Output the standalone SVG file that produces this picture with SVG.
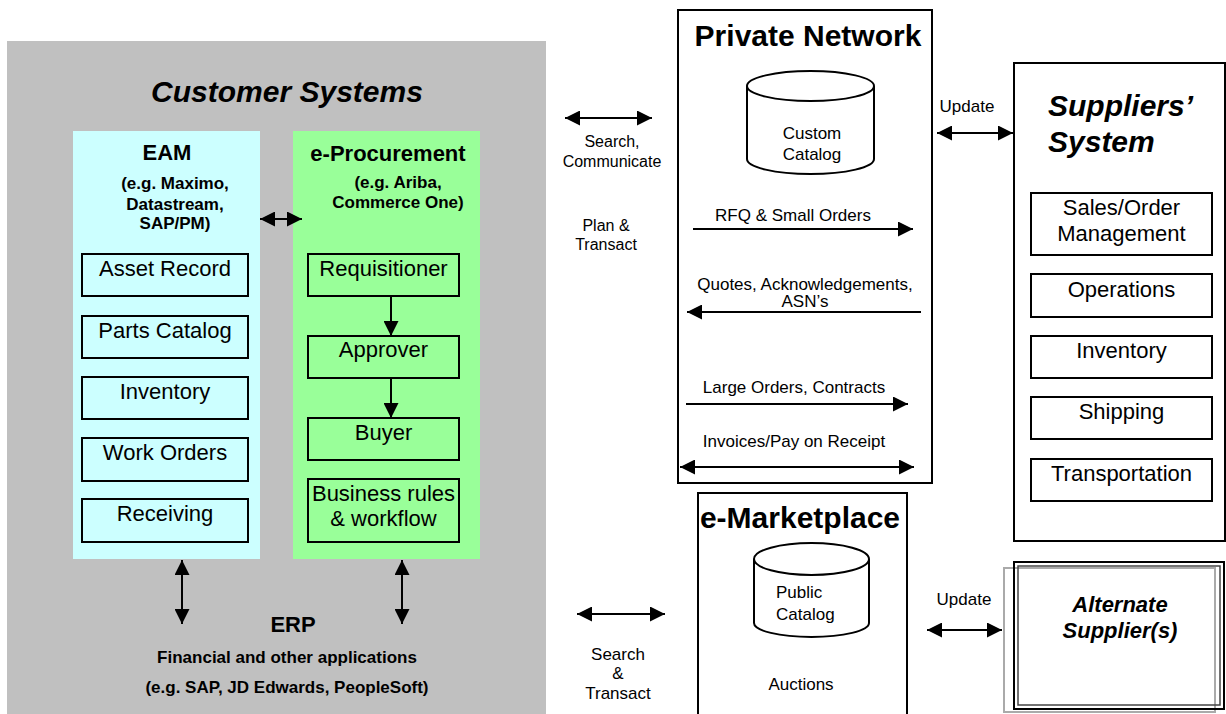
<svg xmlns="http://www.w3.org/2000/svg" width="1226" height="714" viewBox="0 0 1226 714">
<style>
text{font-family:"Liberation Sans",Arial,sans-serif;fill:#000}
.t30{font-size:30px;font-weight:bold}
.bi{font-style:italic}
.t22b{font-size:22px;font-weight:bold}
.t17b{font-size:17px;font-weight:bold}
.t22{font-size:22px}
.t17{font-size:17px}
.t16{font-size:16px}
.m{text-anchor:middle}
.box{fill:none;stroke:#000;stroke-width:2}
.ln{stroke:#000;stroke-width:2;fill:none}
.cyl{fill:#fff;stroke:#000;stroke-width:2}
</style>
<defs>
<marker id="ah" markerUnits="userSpaceOnUse" markerWidth="15" markerHeight="15" refX="15" refY="7.5" orient="auto-start-reverse" viewBox="0 0 15 15">
<path d="M0,0 L15,7.5 L0,15 z" fill="#000"/>
</marker>
</defs>
<rect width="1226" height="714" fill="#fff"/>

<g id="customer-systems">
<rect x="7" y="41" width="539" height="673" fill="#C0C0C0"/>
<text class="t30 bi m" x="287" y="102">Customer Systems</text>
</g>

<g id="eam">
<rect x="73" y="131" width="187" height="428" fill="#CCFFFF"/>
<text class="t22b m" x="167" y="160">EAM</text>
<text class="t17b m" x="175" y="189">(e.g. Maximo,</text>
<text class="t17b m" x="175" y="210">Datastream,</text>
<text class="t17b m" x="175" y="229">SAP/PM)</text>
</g>
<g id="asset-record"><rect class="box" x="82" y="254" width="166" height="42"/><text class="t22 m" x="165" y="276">Asset Record</text></g>
<g id="parts-catalog"><rect class="box" x="82" y="316" width="166" height="42"/><text class="t22 m" x="165" y="338">Parts Catalog</text></g>
<g id="eam-inventory"><rect class="box" x="82" y="377" width="166" height="42"/><text class="t22 m" x="165" y="399">Inventory</text></g>
<g id="work-orders"><rect class="box" x="82" y="438" width="166" height="43"/><text class="t22 m" x="165" y="460">Work Orders</text></g>
<g id="receiving"><rect class="box" x="82" y="499" width="166" height="43"/><text class="t22 m" x="165" y="521">Receiving</text></g>

<g id="e-procurement">
<rect x="293" y="131" width="187" height="428" fill="#99FF99"/>
<text class="t22b m" x="388" y="161">e-Procurement</text>
<text class="t17b m" x="398" y="188">(e.g. Ariba,</text>
<text class="t17b m" x="398" y="208">Commerce One)</text>
</g>
<g id="requisitioner"><rect class="box" x="308" y="254" width="151" height="42"/><text class="t22 m" x="383.5" y="276">Requisitioner</text></g>
<g id="approver"><rect class="box" x="308" y="336" width="151" height="42"/><text class="t22 m" x="383.5" y="357">Approver</text></g>
<g id="buyer"><rect class="box" x="308" y="418" width="151" height="42"/><text class="t22 m" x="383.5" y="440">Buyer</text></g>
<g id="business-rules"><rect class="box" x="308" y="479" width="151" height="63"/><text class="t22 m" x="383.5" y="501">Business rules</text><text class="t22 m" x="383.5" y="526">&amp; workflow</text></g>

<g id="erp">
<text class="t22b m" x="293" y="632">ERP</text>
<text class="t17b m" x="287" y="663">Financial and other applications</text>
<text class="t17b m" x="287" y="693">(e.g. SAP, JD Edwards, PeopleSoft)</text>
</g>

<g id="private-network">
<rect class="box" x="678" y="10" width="254" height="473"/>
<text class="t30 m" x="808" y="46">Private Network</text>
</g>
<g id="custom-catalog">
<path class="cyl" d="M747,86 L747,159 A63.5,15 0 0 0 874,159 L874,86"/>
<ellipse class="cyl" cx="810.5" cy="86" rx="63.5" ry="15"/>
<text class="t17 m" x="812" y="139">Custom</text>
<text class="t17 m" x="812" y="160">Catalog</text>
</g>

<g id="e-marketplace">
<rect class="box" x="698" y="493" width="209" height="224"/>
<text class="t30 m" x="800" y="528">e-Marketplace</text>
<text class="t17 m" x="801" y="690">Auctions</text>
</g>
<g id="public-catalog">
<path class="cyl" d="M754,559 L754,623 A57.5,14 0 0 0 869,623 L869,559"/>
<ellipse class="cyl" cx="811.5" cy="559" rx="57.5" ry="16"/>
<text class="t17" x="776" y="598">Public</text>
<text class="t17" x="776" y="620">Catalog</text>
</g>

<g id="suppliers-system">
<rect class="box" x="1014" y="63" width="211" height="478"/>
<text class="t30 bi" x="1048" y="116">Suppliers’</text>
<text class="t30 bi" x="1048" y="152">System</text>
</g>
<g id="sales-order"><rect class="box" x="1031" y="193" width="181" height="62"/><text class="t22 m" x="1121.5" y="215">Sales/Order</text><text class="t22 m" x="1121.5" y="241">Management</text></g>
<g id="operations"><rect class="box" x="1031" y="274" width="181" height="43"/><text class="t22 m" x="1121.5" y="297">Operations</text></g>
<g id="sup-inventory"><rect class="box" x="1031" y="336" width="181" height="42"/><text class="t22 m" x="1121.5" y="358">Inventory</text></g>
<g id="shipping"><rect class="box" x="1031" y="397" width="181" height="42"/><text class="t22 m" x="1121.5" y="419">Shipping</text></g>
<g id="transportation"><rect class="box" x="1031" y="459" width="181" height="42"/><text class="t22 m" x="1121.5" y="481">Transportation</text></g>

<g id="alternate-suppliers">
<rect x="1004" y="568" width="211" height="144" fill="none" stroke="#aaa" stroke-width="2"/>
<rect x="1014" y="562" width="210" height="147" fill="none" stroke="#000" stroke-width="2"/>
<rect x="1018" y="566" width="202" height="139" fill="none" stroke="#444" stroke-width="1.5"/>
<text class="t22b bi m" x="1120" y="612">Alternate</text>
<text class="t22b bi m" x="1120" y="638">Supplier(s)</text>
</g>

<g id="connectors">
<line class="ln" x1="260" y1="219" x2="302" y2="219" marker-start="url(#ah)" marker-end="url(#ah)"/>
<line class="ln" x1="391" y1="296" x2="391" y2="336" marker-end="url(#ah)"/>
<line class="ln" x1="391" y1="378" x2="391" y2="418" marker-end="url(#ah)"/>
<line class="ln" x1="182" y1="560" x2="182" y2="624" marker-start="url(#ah)" marker-end="url(#ah)"/>
<line class="ln" x1="402" y1="560" x2="402" y2="624" marker-start="url(#ah)" marker-end="url(#ah)"/>

<line class="ln" x1="565" y1="118" x2="652" y2="118" marker-start="url(#ah)" marker-end="url(#ah)"/>
<text class="t16 m" x="612" y="147">Search,</text>
<text class="t16 m" x="612" y="167">Communicate</text>
<text class="t16 m" x="606" y="231">Plan &amp;</text>
<text class="t16 m" x="606" y="250">Transact</text>

<line class="ln" x1="693" y1="229" x2="913" y2="229" marker-end="url(#ah)"/>
<text class="t17 m" x="793" y="221">RFQ &amp; Small Orders</text>
<text class="t17 m" x="805" y="290">Quotes, Acknowledgements,</text>
<text class="t17 m" x="805" y="307">ASN’s</text>
<line class="ln" x1="921" y1="312" x2="687" y2="312" marker-end="url(#ah)"/>
<text class="t17 m" x="794" y="393">Large Orders, Contracts</text>
<line class="ln" x1="686" y1="404" x2="908" y2="404" marker-end="url(#ah)"/>
<text class="t17 m" x="794" y="447">Invoices/Pay on Receipt</text>
<line class="ln" x1="680" y1="467" x2="914" y2="467" marker-start="url(#ah)" marker-end="url(#ah)"/>

<line class="ln" x1="577" y1="614" x2="665" y2="614" marker-start="url(#ah)" marker-end="url(#ah)"/>
<text class="t17 m" x="618" y="660">Search</text>
<text class="t17 m" x="618" y="679">&amp;</text>
<text class="t17 m" x="618" y="699">Transact</text>

<text class="t17 m" x="967" y="112">Update</text>
<line class="ln" x1="937" y1="133" x2="1013" y2="133" marker-start="url(#ah)" marker-end="url(#ah)"/>
<text class="t17 m" x="964" y="605">Update</text>
<line class="ln" x1="927" y1="630" x2="1002" y2="630" marker-start="url(#ah)" marker-end="url(#ah)"/>
</g>
</svg>
